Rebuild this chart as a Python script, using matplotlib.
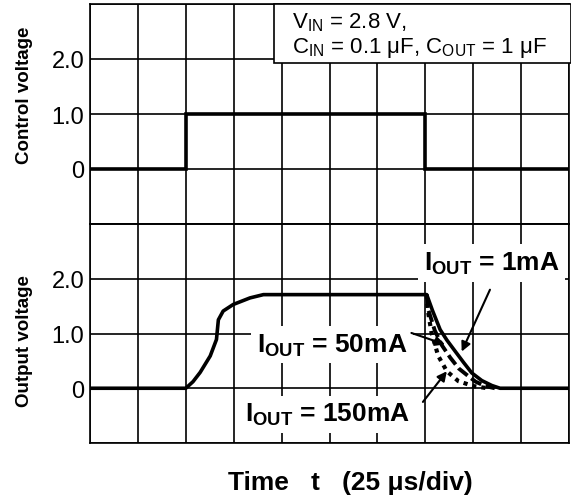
import matplotlib
matplotlib.use("Agg")
import matplotlib.pyplot as plt

plt.rcParams['font.family'] = ['Liberation Sans', 'DejaVu Sans']
plt.rcParams['mathtext.fontset'] = 'custom'
plt.rcParams['mathtext.rm'] = 'Liberation Sans'
plt.rcParams['mathtext.bf'] = 'Liberation Sans:bold'
plt.rcParams['mathtext.it'] = 'Liberation Sans:italic'

# time in divisions (25 us/div), voltage in V
ctrl_t = [0, 2.0, 2.0, 7.0, 7.0, 10]
ctrl_v = [0, 0, 1.0, 1.0, 0, 0]

rise_t = [0, 2.0, 2.15, 2.30, 2.51, 2.64, 2.68, 2.78, 2.99, 3.34, 3.62, 7.03]
rise_v = [0, 0, 0.12, 0.29, 0.59, 0.89, 1.25, 1.41, 1.53, 1.65, 1.71, 1.71]

fall_1ma_t = [7.03, 7.15, 7.31, 7.45, 7.62, 7.80, 7.97, 8.18, 8.39, 8.56, 10]
fall_1ma_v = [1.71, 1.42, 1.07, 0.88, 0.68, 0.47, 0.28, 0.14, 0.05, 0, 0]

fall_50ma_t = [7.03, 7.06, 7.20, 7.35, 7.52, 7.70, 7.90, 8.05, 8.25, 8.45]
fall_50ma_v = [1.71, 1.44, 1.05, 0.78, 0.56, 0.36, 0.22, 0.12, 0.04, 0]

fall_150ma_t = [7.03, 7.05, 7.13, 7.27, 7.45, 7.69, 8.00, 8.30]
fall_150ma_v = [1.71, 1.44, 1.01, 0.59, 0.31, 0.13, 0.04, 0]

ytick_labels = ['', '0', '1.0', '2.0', '']

fig = plt.figure(figsize=(5.71, 5.02), dpi=100)
L, R = 90 / 571, 569 / 571
top_ax = fig.add_axes([L, 1 - 225 / 502, R - L, 220 / 502])
bot_ax = fig.add_axes([L, 1 - 444 / 502, R - L, 219 / 502])

for ax in (top_ax, bot_ax):
    ax.set_xlim(0, 10)
    ax.set_ylim(-1, 3)
    ax.set_xticks(range(11))
    ax.set_xticklabels([])
    ax.set_yticks(range(-1, 4))
    ax.set_yticklabels(ytick_labels)
    ax.tick_params(length=0, pad=4, labelsize=17)
    ax.grid(True, color='black', lw=1.2)
    ax.set_axisbelow(True)
    for s in ax.spines.values():
        s.set_linewidth(1.2)

top_ax.plot(ctrl_t, ctrl_v, color='black', lw=2.6, solid_joinstyle='miter')
bot_ax.plot(rise_t + fall_1ma_t, rise_v + fall_1ma_v, color='black', lw=2.6)
bot_ax.plot(fall_50ma_t, fall_50ma_v, color='black', lw=2.8, ls=(0, (3, 1.2)))
bot_ax.plot(fall_150ma_t, fall_150ma_v, color='black', lw=3.0, ls=(0, (1, 1.2)))

top_ax.set_ylabel('Control voltage', fontsize=13.5, fontweight='bold')
top_ax.yaxis.set_label_coords(-0.119, 0.59)
bot_ax.set_ylabel('Output voltage', fontsize=13.5, fontweight='bold')
bot_ax.yaxis.set_label_coords(-0.119, 0.47)
fig.text(350 / 571, 1 - 483 / 502, 'Time   t   (25 μs/div)', fontsize=19,
         fontweight='bold', ha='center', va='center')

# conditions box
top_ax.add_patch(plt.Rectangle((0.384, 0.732), 0.62, 0.27, transform=top_ax.transAxes,
                               facecolor='white', edgecolor='black', lw=1.2, zorder=3,
                               clip_on=False))
top_ax.text(0.422, 0.895, r'V$_{\mathrm{IN}}$ = 2.8 V,', transform=top_ax.transAxes,
            fontsize=16, va='baseline', ha='left', zorder=4)
top_ax.text(0.422, 0.782, r'C$_{\mathrm{IN}}$ = 0.1 μF, C$_{\mathrm{OUT}}$ = 1 μF',
            transform=top_ax.transAxes, fontsize=16, va='baseline', ha='left', zorder=4)

box = dict(facecolor='white', edgecolor='none', pad=4)
labels = [
    (r'I$_{\mathbf{OUT}}$ = 1mA', (6.97, 2.16), (8.35, 1.80), (7.76, 0.67)),
    (r'I$_{\mathbf{OUT}}$ = 50mA', (3.48, 0.67), (6.71, 1.01), (7.41, 0.80)),
    (r'I$_{\mathbf{OUT}}$ = 150mA', (3.24, -0.60), (6.95, -0.25), (7.45, 0.31)),
]
for txt, pos, a0, a1 in labels:
    bot_ax.text(pos[0], pos[1], txt, fontsize=19, fontweight='bold', ha='left',
                va='baseline', bbox=box, zorder=4)
    bot_ax.annotate('', xy=a1, xytext=a0,
                    arrowprops=dict(arrowstyle='-|>', color='black', lw=1.5,
                                    mutation_scale=14, shrinkA=0, shrinkB=0),
                    zorder=5)

fig.savefig('out.png', dpi=100)
